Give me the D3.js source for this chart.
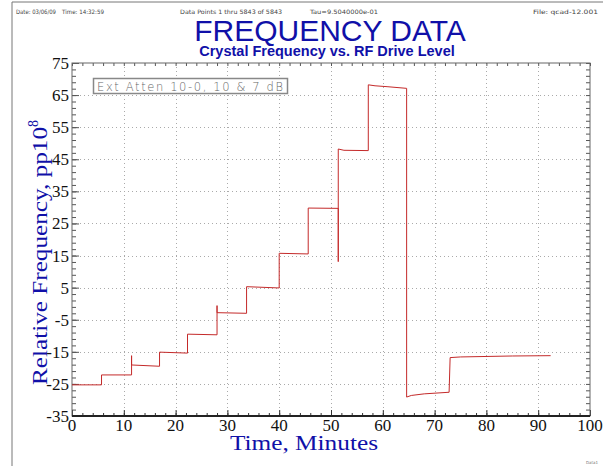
<!DOCTYPE html>
<html>
<head>
<meta charset="utf-8">
<script src="https://cdn.jsdelivr.net/npm/d3@7"></script>
<style>
	body { margin: 0; background: #fff; }
	svg { display: block; }
</style>
</head>
<body>
<script>
// chart data (minutes, pp10^8)
const time = [0, 5.7, 5.7, 11.5, 11.5, 11.5, 16.9, 16.9, 22.3, 22.3, 28.0, 28.0, 28.0, 33.7, 33.7, 40.0,
	40.0, 45.6, 45.6, 51.4, 51.4, 51.4, 52.5, 57.2, 57.2, 58.5, 61.0, 64.6, 64.6, 65.5, 68.0, 72.8,
	73.0, 75.0, 85.0, 92.4];
const freq = [-25.3, -25.3, -22.2, -22.2, -16.2, -19.1, -19.5, -15.1, -15.4, -9.5, -9.7, -0.6, -2.8, -3.0, 5.3, 4.9,
	15.7, 15.5, 29.8, 29.7, 13.1, 48.2, 47.8, 47.7, 68.2, 67.9, 67.6, 67.1, -29.1, -28.6, -28.1, -27.6,
	-16.8, -16.6, -16.3, -16.2];
const xTicks = [0, 10, 20, 30, 40, 50, 60, 70, 80, 90, 100];
const yTicks = [-35, -25, -15, -5, 5, 15, 25, 35, 45, 55, 65, 75];
const headerTexts = ['Date: 03/06/09', 'Time: 14:32:59', 'Data Points 1 thru 5843 of 5843', 'Tau=9.5040000e-01', 'File: qcad-12.001'];

const width = 603;
const height = 466;
const BLUE = '#1010a8';
const LINE_COLOR = '#c42a2a';
const GRID_COLOR = '#aaa';

const margin = { left: 72, right: 13, top: 63, bottom: 50 };

const svg = d3.select('body')
	.append('svg')
	.attr('width', width)
	.attr('height', height);

const x = d3.scaleLinear().domain([0, 100]).range([margin.left, width - margin.right]);
const y = d3.scaleLinear().domain([-35, 75]).range([height - margin.bottom, margin.top]);

// outer frame (top + left only)
svg.append('path')
	.attr('d', `M12,${height} L12,2 L${width},2`)
	.attr('fill', 'none')
	.attr('stroke', '#777')
	.attr('stroke-width', 1);

// header line
const header = svg.append('g')
	.attr('font-family', 'DejaVu Sans, sans-serif')
	.attr('font-size', 6)
	.attr('fill', '#444');
const headerX = [16, 62, 180, 310, 533];
const headerLen = [40, 42, 102, 68, 65];
headerTexts.forEach((t, i) => {
	header.append('text')
		.attr('x', headerX[i]).attr('y', 14)
		.attr('textLength', headerLen[i])
		.attr('lengthAdjust', 'spacingAndGlyphs')
		.text(t);
});

// titles
svg.append('text')
	.attr('x', 330).attr('y', 41)
	.attr('text-anchor', 'middle')
	.attr('font-family', 'Liberation Sans, Arial, sans-serif')
	.attr('font-size', 30)
	.attr('fill', BLUE)
	.text('FREQUENCY DATA');

svg.append('text')
	.attr('x', 327).attr('y', 56)
	.attr('text-anchor', 'middle')
	.attr('font-family', 'Liberation Sans, Arial, sans-serif')
	.attr('font-weight', 'bold')
	.attr('font-size', 14.5)
	.attr('fill', BLUE)
	.text('Crystal Frequency vs. RF Drive Level');

// grid
const grid = svg.append('g')
	.attr('stroke', GRID_COLOR)
	.attr('stroke-width', 1)
	.attr('stroke-dasharray', '1,3');
grid.selectAll('.gx')
	.data(xTicks.slice(1, -1))
	.enter()
	.append('line')
	.attr('x1', d => Math.round(x(d)) + 0.5)
	.attr('x2', d => Math.round(x(d)) + 0.5)
	.attr('y1', y(-35))
	.attr('y2', y(75));
grid.selectAll('.gy')
	.data(yTicks.slice(1, -1))
	.enter()
	.append('line')
	.attr('y1', d => Math.round(y(d)) + 0.5)
	.attr('y2', d => Math.round(y(d)) + 0.5)
	.attr('x1', x(0))
	.attr('x2', x(100));

// inner ticks on all four sides
const xMinor = d3.range(0, 101, 2);
const yMinor = d3.range(-35, 76, 2);

svg.append('g')
	.attr('transform', `translate(0,${y(-35)})`)
	.call(d3.axisBottom(x).tickValues(xMinor).tickSize(-3).tickFormat(''))
	.call(g => g.select('.domain').remove())
	.selectAll('line').attr('stroke', '#333');
svg.append('g')
	.attr('transform', `translate(0,${y(75)})`)
	.call(d3.axisTop(x).tickValues(xMinor).tickSize(-3).tickFormat(''))
	.call(g => g.select('.domain').remove())
	.selectAll('line').attr('stroke', '#555');
svg.append('g')
	.attr('transform', `translate(${x(0)},0)`)
	.call(d3.axisLeft(y).tickValues(yMinor).tickSize(-4).tickFormat(''))
	.call(g => g.select('.domain').remove())
	.selectAll('line').attr('stroke', '#555');
svg.append('g')
	.attr('transform', `translate(${x(100)},0)`)
	.call(d3.axisRight(y).tickValues(yMinor).tickSize(-4).tickFormat(''))
	.call(g => g.select('.domain').remove())
	.selectAll('line').attr('stroke', '#555');

// major ticks
svg.append('g')
	.attr('transform', `translate(0,${y(-35)})`)
	.call(d3.axisBottom(x).tickValues(xTicks).tickSize(-6).tickFormat(''))
	.call(g => g.select('.domain').remove())
	.selectAll('line').attr('stroke', '#333');
svg.append('g')
	.attr('transform', `translate(${x(0)},0)`)
	.call(d3.axisLeft(y).tickValues(yTicks).tickSize(-7).tickFormat(''))
	.call(g => g.select('.domain').remove())
	.selectAll('line').attr('stroke', '#555');

// plot frame
svg.append('rect')
	.attr('x', x(0)).attr('y', y(75))
	.attr('width', x(100) - x(0)).attr('height', y(-35) - y(75))
	.attr('fill', 'none')
	.attr('stroke', '#666')
	.attr('stroke-width', 1);
svg.append('line')
	.attr('x1', x(0)).attr('x2', x(100))
	.attr('y1', y(-35)).attr('y2', y(-35))
	.attr('stroke', '#222')
	.attr('stroke-width', 2);

// tick labels
svg.append('g')
	.attr('font-family', 'Liberation Serif, Times New Roman, serif')
	.attr('font-size', 17)
	.attr('fill', '#111')
	.selectAll('text')
	.data(xTicks)
	.enter()
	.append('text')
	.attr('x', d => x(d))
	.attr('y', y(-35) + 15)
	.attr('text-anchor', 'middle')
	.text(d => d);

svg.append('g')
	.attr('font-family', 'Liberation Serif, Times New Roman, serif')
	.attr('font-size', 17)
	.attr('fill', '#111')
	.selectAll('text')
	.data(yTicks)
	.enter()
	.append('text')
	.attr('x', x(0) - 3)
	.attr('y', d => y(d) + 6)
	.attr('text-anchor', 'end')
	.text(d => d);

// axis titles
svg.append('text')
	.attr('x', 304).attr('y', 450)
	.attr('text-anchor', 'middle')
	.attr('font-family', 'Liberation Serif, Times New Roman, serif')
	.attr('font-size', 20)
	.attr('fill', BLUE)
	.attr('textLength', 148)
	.attr('lengthAdjust', 'spacingAndGlyphs')
	.text('Time, Minutes');

const yTitle = svg.append('text')
	.attr('transform', 'translate(47,385) rotate(-90)')
	.attr('font-family', 'Liberation Serif, Times New Roman, serif')
	.attr('font-size', 21)
	.attr('fill', BLUE);
yTitle.append('tspan')
	.attr('textLength', 258)
	.attr('lengthAdjust', 'spacingAndGlyphs')
	.text('Relative Frequency, pp10');
yTitle.append('tspan').attr('font-size', 14).attr('dy', -9).text('8');

// annotation box
svg.append('rect')
	.attr('x', 93.5).attr('y', 78.5)
	.attr('width', 194).attr('height', 15)
	.attr('fill', '#fff')
	.attr('stroke', '#888')
	.attr('stroke-width', 1.5);
svg.append('text')
	.attr('x', 97).attr('y', 90.5)
	.attr('font-family', 'DejaVu Sans, sans-serif')
	.attr('font-size', 11.5)
	.attr('font-weight', 300)
	.attr('fill', '#666')
	.attr('textLength', 186)
	.text('Ext Atten 10-0, 10 & 7 dB');

// data line
const points = time.map((t, i) => [t, freq[i]]);
svg.append('path')
	.datum(points)
	.attr('fill', 'none')
	.attr('stroke', LINE_COLOR)
	.attr('stroke-width', 1)
	.attr('d', d3.line().x(d => x(d[0])).y(d => y(d[1])));

// footer tag
svg.append('text')
	.attr('x', 598).attr('y', 464)
	.attr('text-anchor', 'end')
	.attr('font-family', 'DejaVu Sans, sans-serif')
	.attr('font-size', 4)
	.attr('fill', '#777')
	.text('Data1');
</script>
</body>
</html>
